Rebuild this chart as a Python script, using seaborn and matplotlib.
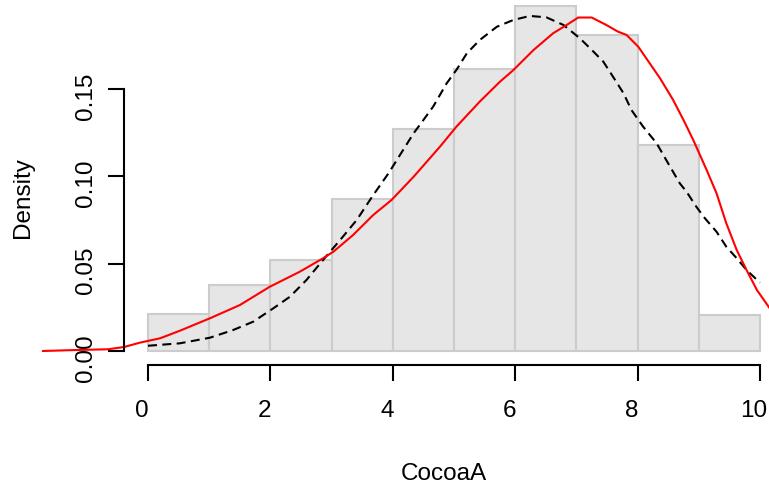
import numpy as np
import pandas as pd
import matplotlib
matplotlib.use("Agg")
import matplotlib.pyplot as plt
import matplotlib.transforms as mtransforms
import seaborn as sns

# ---- data ----
bin_edges = [0, 1, 2, 3, 4, 5, 6, 7, 8, 9, 10]
bin_centers = [0.5, 1.5, 2.5, 3.5, 4.5, 5.5, 6.5, 7.5, 8.5, 9.5]
bin_density = [0.021, 0.0378, 0.0523, 0.0869, 0.1271, 0.1617, 0.1976, 0.1812, 0.118, 0.0208]

fit_x = [-1.72, -1.24, -0.65, -0.39, -0.13, 0.2, 0.52, 1.01, 1.5, 1.99, 2.48, 2.86, 3.03,
         3.35, 3.68, 3.98, 4.34, 4.77, 5.04, 5.42, 5.75, 5.97, 6.3, 6.62, 6.84, 7.03, 7.25,
         7.49, 7.68, 7.82, 8.01, 8.18, 8.37, 8.58, 8.75, 8.91, 9.13, 9.29, 9.45, 9.62, 9.78,
         9.95, 10.14, 10.4]
fit_y = [0.0, 0.0005, 0.001, 0.0023, 0.0048, 0.0073, 0.0116, 0.0187, 0.0263, 0.0368, 0.0454,
         0.0531, 0.0569, 0.0664, 0.0779, 0.0865, 0.0998, 0.117, 0.1285, 0.1428, 0.1542,
         0.1609, 0.1724, 0.182, 0.1867, 0.191, 0.191, 0.1867, 0.1829, 0.181, 0.1743, 0.1657,
         0.156, 0.1438, 0.1323, 0.1208, 0.1035, 0.0903, 0.0731, 0.0578, 0.0464, 0.0349,
         0.0254, 0.012]

kde_x = [0.0, 0.52, 1.01, 1.39, 1.72, 2.05, 2.32, 2.59, 2.86, 3.14, 3.41, 3.68, 3.93, 4.34,
         4.5, 4.66, 4.88, 5.04, 5.21, 5.42, 5.7, 5.97, 6.24, 6.51, 6.79, 7.06, 7.28, 7.44,
         7.6, 7.77, 7.9, 8.09, 8.31, 8.53, 8.69, 8.8, 8.96, 9.1, 9.29, 9.45, 9.62, 9.78, 10.0]
kde_y = [0.003, 0.0044, 0.0076, 0.012, 0.0168, 0.0245, 0.0311, 0.0407, 0.0521, 0.0636, 0.075,
         0.0893, 0.1018, 0.1247, 0.1323, 0.14, 0.1533, 0.161, 0.1705, 0.1781, 0.1857, 0.1896,
         0.1919, 0.1911, 0.1867, 0.179, 0.1714, 0.1657, 0.157, 0.1476, 0.138, 0.1285, 0.119,
         0.1056, 0.096, 0.0912, 0.0826, 0.076, 0.0683, 0.0597, 0.0531, 0.0464, 0.0391]

x_ticks = [0, 2, 4, 6, 8, 10]
y_ticks = [0.00, 0.05, 0.10, 0.15]
y_tick_labels = ["0.00", "0.05", "0.10", "0.15"]
x_label = "CocoaA"
y_label = "Density"

# ---- style ----
sns.set_style("white")
plt.rcParams["font.family"] = ["Liberation Sans", "DejaVu Sans"]

W, H = 769, 491
fig = plt.figure(figsize=(W / 100, H / 100), dpi=100)
ax = fig.add_axes([0, 0, 1, 1])
ax.patch.set_alpha(0)

px_per_x = 61.2
x0_px = 148.0
px_per_y = 1746.0
y0_px = 351.0

sns.histplot(x=bin_centers, weights=bin_density, bins=bin_edges, stat="count",
             color="#E6E6E6", edgecolor="#CCCCCC", linewidth=1.5, alpha=1.0, ax=ax)

sns.lineplot(x=kde_x, y=kde_y, color="black", linewidth=1.5, linestyle=(0, (4.3, 2.6)),
             sort=False, estimator=None, ax=ax)
sns.lineplot(x=fit_x, y=fit_y, color="#FF0000", linewidth=1.5,
             sort=False, estimator=None, ax=ax)

ax.set_xlim(-x0_px / px_per_x, (W - x0_px) / px_per_x)
ax.set_ylim(-(H - y0_px) / px_per_y, y0_px / px_per_y)
ax.set_xlabel("")
ax.set_ylabel("")

for s in ["top", "right"]:
    ax.spines[s].set_visible(False)
left_x = (123.8 - x0_px) / px_per_x
bottom_y = -(364.6 - y0_px) / px_per_y
ax.spines["left"].set_position(("data", left_x))
ax.spines["bottom"].set_position(("data", bottom_y))
ax.spines["left"].set_bounds(0, 0.15)
ax.spines["bottom"].set_bounds(0, 10)
for s in ["left", "bottom"]:
    ax.spines[s].set_linewidth(1.5)
    ax.spines[s].set_color("black")

ax.set_xticks(x_ticks)
ax.set_xticklabels([str(t) for t in x_ticks])
ax.set_yticks(y_ticks)
ax.set_yticklabels(y_tick_labels, rotation=90, va="center")
ax.tick_params(axis="both", which="major", direction="out", length=11.5, width=1.5,
               color="black", labelsize=17.5, labelcolor="black")
ax.tick_params(axis="x", pad=14)
ax.tick_params(axis="y", pad=7.5)
ax.tick_params(left=True, bottom=True)

# small offsets of the tick labels as seen in the reference
dx = mtransforms.ScaledTranslation(-6 / 100, 0, fig.dpi_scale_trans)
for lab in ax.get_xticklabels():
    lab.set_transform(lab.get_transform() + dx)
dy = mtransforms.ScaledTranslation(0, -7 / 100, fig.dpi_scale_trans)
for lab in ax.get_yticklabels():
    lab.set_transform(lab.get_transform() + dy)

fig.text(444 / W, 1 - 474.5 / H, x_label, ha="center", va="center", fontsize=17.5, color="black")
fig.text(23 / W, 1 - 198 / H, y_label, ha="center", va="center", rotation=90,
         fontsize=17.5, color="black")

fig.savefig("out.png", dpi=100)
